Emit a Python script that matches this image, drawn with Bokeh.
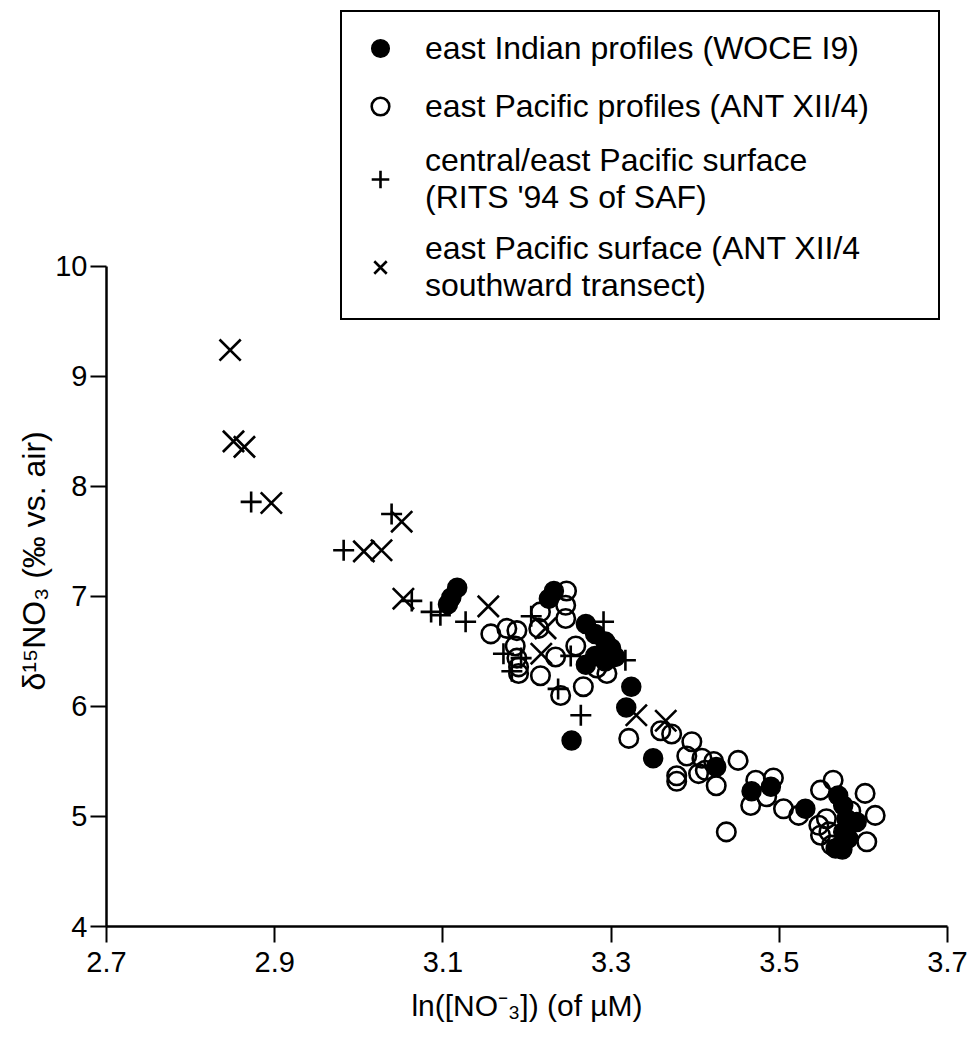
from bokeh.plotting import figure
from bokeh.models import Range1d, Legend, LegendItem, FixedTicker, Title
from bokeh.embed import file_html
from bokeh.resources import INLINE

# east Indian profiles (WOCE I9) - filled circles
indian_x = [3.117, 3.110, 3.106, 3.232, 3.226, 3.270, 3.281, 3.293, 3.300, 3.270, 3.281,
            3.293, 3.305, 3.324, 3.318, 3.253, 3.350, 3.425, 3.467, 3.490, 3.531,
            3.570, 3.576, 3.580, 3.576, 3.567, 3.582, 3.592, 3.575]
indian_y = [7.08, 6.99, 6.93, 7.05, 6.98, 6.75, 6.66, 6.59, 6.53, 6.38, 6.46,
            6.41, 6.45, 6.18, 5.99, 5.69, 5.53, 5.45, 5.23, 5.27, 5.07,
            5.19, 5.10, 4.98, 4.86, 4.71, 4.80, 4.95, 4.70]

# east Pacific profiles (ANT XII/4) - open circles
pacific_x = [3.157, 3.176, 3.188, 3.186, 3.188, 3.190, 3.190, 3.247, 3.246, 3.246,
             3.216, 3.214, 3.234, 3.216, 3.240, 3.267, 3.258, 3.295, 3.283,
             3.321, 3.359, 3.372, 3.396, 3.390, 3.378, 3.378, 3.408, 3.404, 3.422,
             3.425, 3.451, 3.437, 3.472, 3.466, 3.493, 3.485, 3.505, 3.523, 3.549,
             3.564, 3.602, 3.614, 3.604, 3.547, 3.559, 3.556, 3.549, 3.562, 3.585, 3.412]
pacific_y = [6.66, 6.71, 6.69, 6.55, 6.44, 6.30, 6.36, 7.05, 6.92, 6.80,
             6.86, 6.71, 6.45, 6.28, 6.10, 6.18, 6.55, 6.30, 6.35,
             5.71, 5.78, 5.75, 5.68, 5.55, 5.37, 5.32, 5.53, 5.39, 5.50,
             5.28, 5.51, 4.86, 5.33, 5.10, 5.35, 5.18, 5.07, 5.01, 5.24,
             5.33, 5.21, 5.01, 4.77, 4.92, 4.86, 4.98, 4.83, 4.74, 5.05, 5.42]

# central/east Pacific surface (RITS '94 S of SAF) - plus
rits_x = [2.872, 3.039, 2.982, 3.063, 3.086, 3.097, 3.127, 3.172, 3.193, 3.182,
          3.205, 3.237, 3.264, 3.252, 3.291, 3.317]
rits_y = [7.86, 7.75, 7.42, 6.96, 6.86, 6.83, 6.77, 6.48, 6.44, 6.32,
          6.82, 6.16, 5.92, 6.46, 6.77, 6.42]

# east Pacific surface (ANT XII/4 southward transect) - x
ant_x = [2.847, 2.851, 2.864, 2.896, 3.051, 3.006, 3.027, 3.053, 3.154, 3.222,
         3.217, 3.330, 3.365]
ant_y = [9.24, 8.41, 8.36, 7.85, 7.68, 7.41, 7.42, 6.98, 6.91, 6.71,
         6.48, 5.92, 5.87]

x_ticks = [2.7, 2.9, 3.1, 3.3, 3.5, 3.7]
y_ticks = [4, 5, 6, 7, 8, 9, 10]

labels = ["east Indian profiles (WOCE I9)",
          "east Pacific profiles (ANT XII/4)",
          "central/east Pacific surface\n(RITS '94 S of SAF)",
          "east Pacific surface (ANT XII/4\nsouthward transect)"]

x_label = "ln([NO\u207b\u2083]) (of \u00b5M)"
y_label = "\u03b4\u00b9\u2075NO\u2083 (\u2030 vs. air)"

FONT = "Liberation Sans"

p = figure(frame_width=841, frame_height=918,
           x_range=Range1d(2.7, 3.7), y_range=Range1d(4.0, 12.345),
           output_backend="svg", toolbar_location=None,
           min_border_left=106, min_border_right=22, min_border_top=8,
           min_border_bottom=10)
p.background_fill_color = "white"
p.border_fill_color = "white"
p.outline_line_color = None
p.grid.visible = False

r_ind = p.scatter(indian_x, indian_y, marker="circle", size=19,
                  fill_color="black", line_color="black", line_width=1.5)
r_pac = p.scatter(pacific_x, pacific_y, marker="circle", size=18.5,
                  fill_color=None, line_color="black", line_width=2.6)
r_rits = p.scatter(rits_x, rits_y, marker="cross", size=21,
                   line_color="black", line_width=2.6)
r_ant = p.scatter(ant_x, ant_y, marker="x", size=30,
                  line_color="black", line_width=2.6)

for ax in (p.xaxis[0], p.yaxis[0]):
    ax.axis_line_width = 2.5
    ax.axis_line_color = "black"
    ax.major_tick_line_width = 2
    ax.major_tick_line_color = "black"
    ax.major_tick_out = 16
    ax.major_tick_in = 0
    ax.minor_tick_line_color = None
    ax.major_label_text_font = FONT
    ax.major_label_text_font_size = "29px"
    ax.major_label_text_color = "black"
    ax.axis_label_text_font = FONT
    ax.axis_label_text_font_size = "30px"
    ax.axis_label_text_font_style = "normal"
    ax.axis_label_text_color = "black"

p.xaxis[0].ticker = FixedTicker(ticks=x_ticks)
p.yaxis[0].ticker = FixedTicker(ticks=y_ticks)
p.xaxis[0].bounds = (2.7, 3.7)
p.yaxis[0].bounds = (4, 10)
p.xaxis[0].major_label_overrides = {t: f"{t:.1f}" for t in x_ticks}
p.xaxis[0].major_label_standoff = 9
p.yaxis[0].major_label_standoff = 3
p.xaxis[0].axis_label = x_label
p.xaxis[0].axis_label_standoff = 14

# y-axis title placed in the left panel so that it can sit where the original has it
ytitle = Title(text=y_label, align="left", offset=236, standoff=2,
               text_font=FONT, text_font_size="32px",
               text_font_style="normal", text_color="black")
p.add_layout(ytitle, "left")

legend = Legend(items=[LegendItem(label=labels[0], renderers=[r_ind]),
                       LegendItem(label=labels[1], renderers=[r_pac]),
                       LegendItem(label=labels[2], renderers=[r_rits]),
                       LegendItem(label=labels[3], renderers=[r_ant])],
                location=(234, 606))
legend.border_line_color = "black"
legend.border_line_alpha = 1.0
legend.border_line_width = 2
legend.background_fill_color = "white"
legend.background_fill_alpha = 1
legend.label_text_font = FONT
legend.label_text_font_size = "32px"
legend.label_text_line_height = 1.2
legend.label_text_color = "black"
legend.label_height = 40
legend.label_width = 499
legend.glyph_height = 44
legend.glyph_width = 48
legend.label_standoff = 21
legend.padding = 14
legend.spacing = 14
legend.margin = 0
p.add_layout(legend)

open("out.html", "w").write(file_html(p, INLINE))
